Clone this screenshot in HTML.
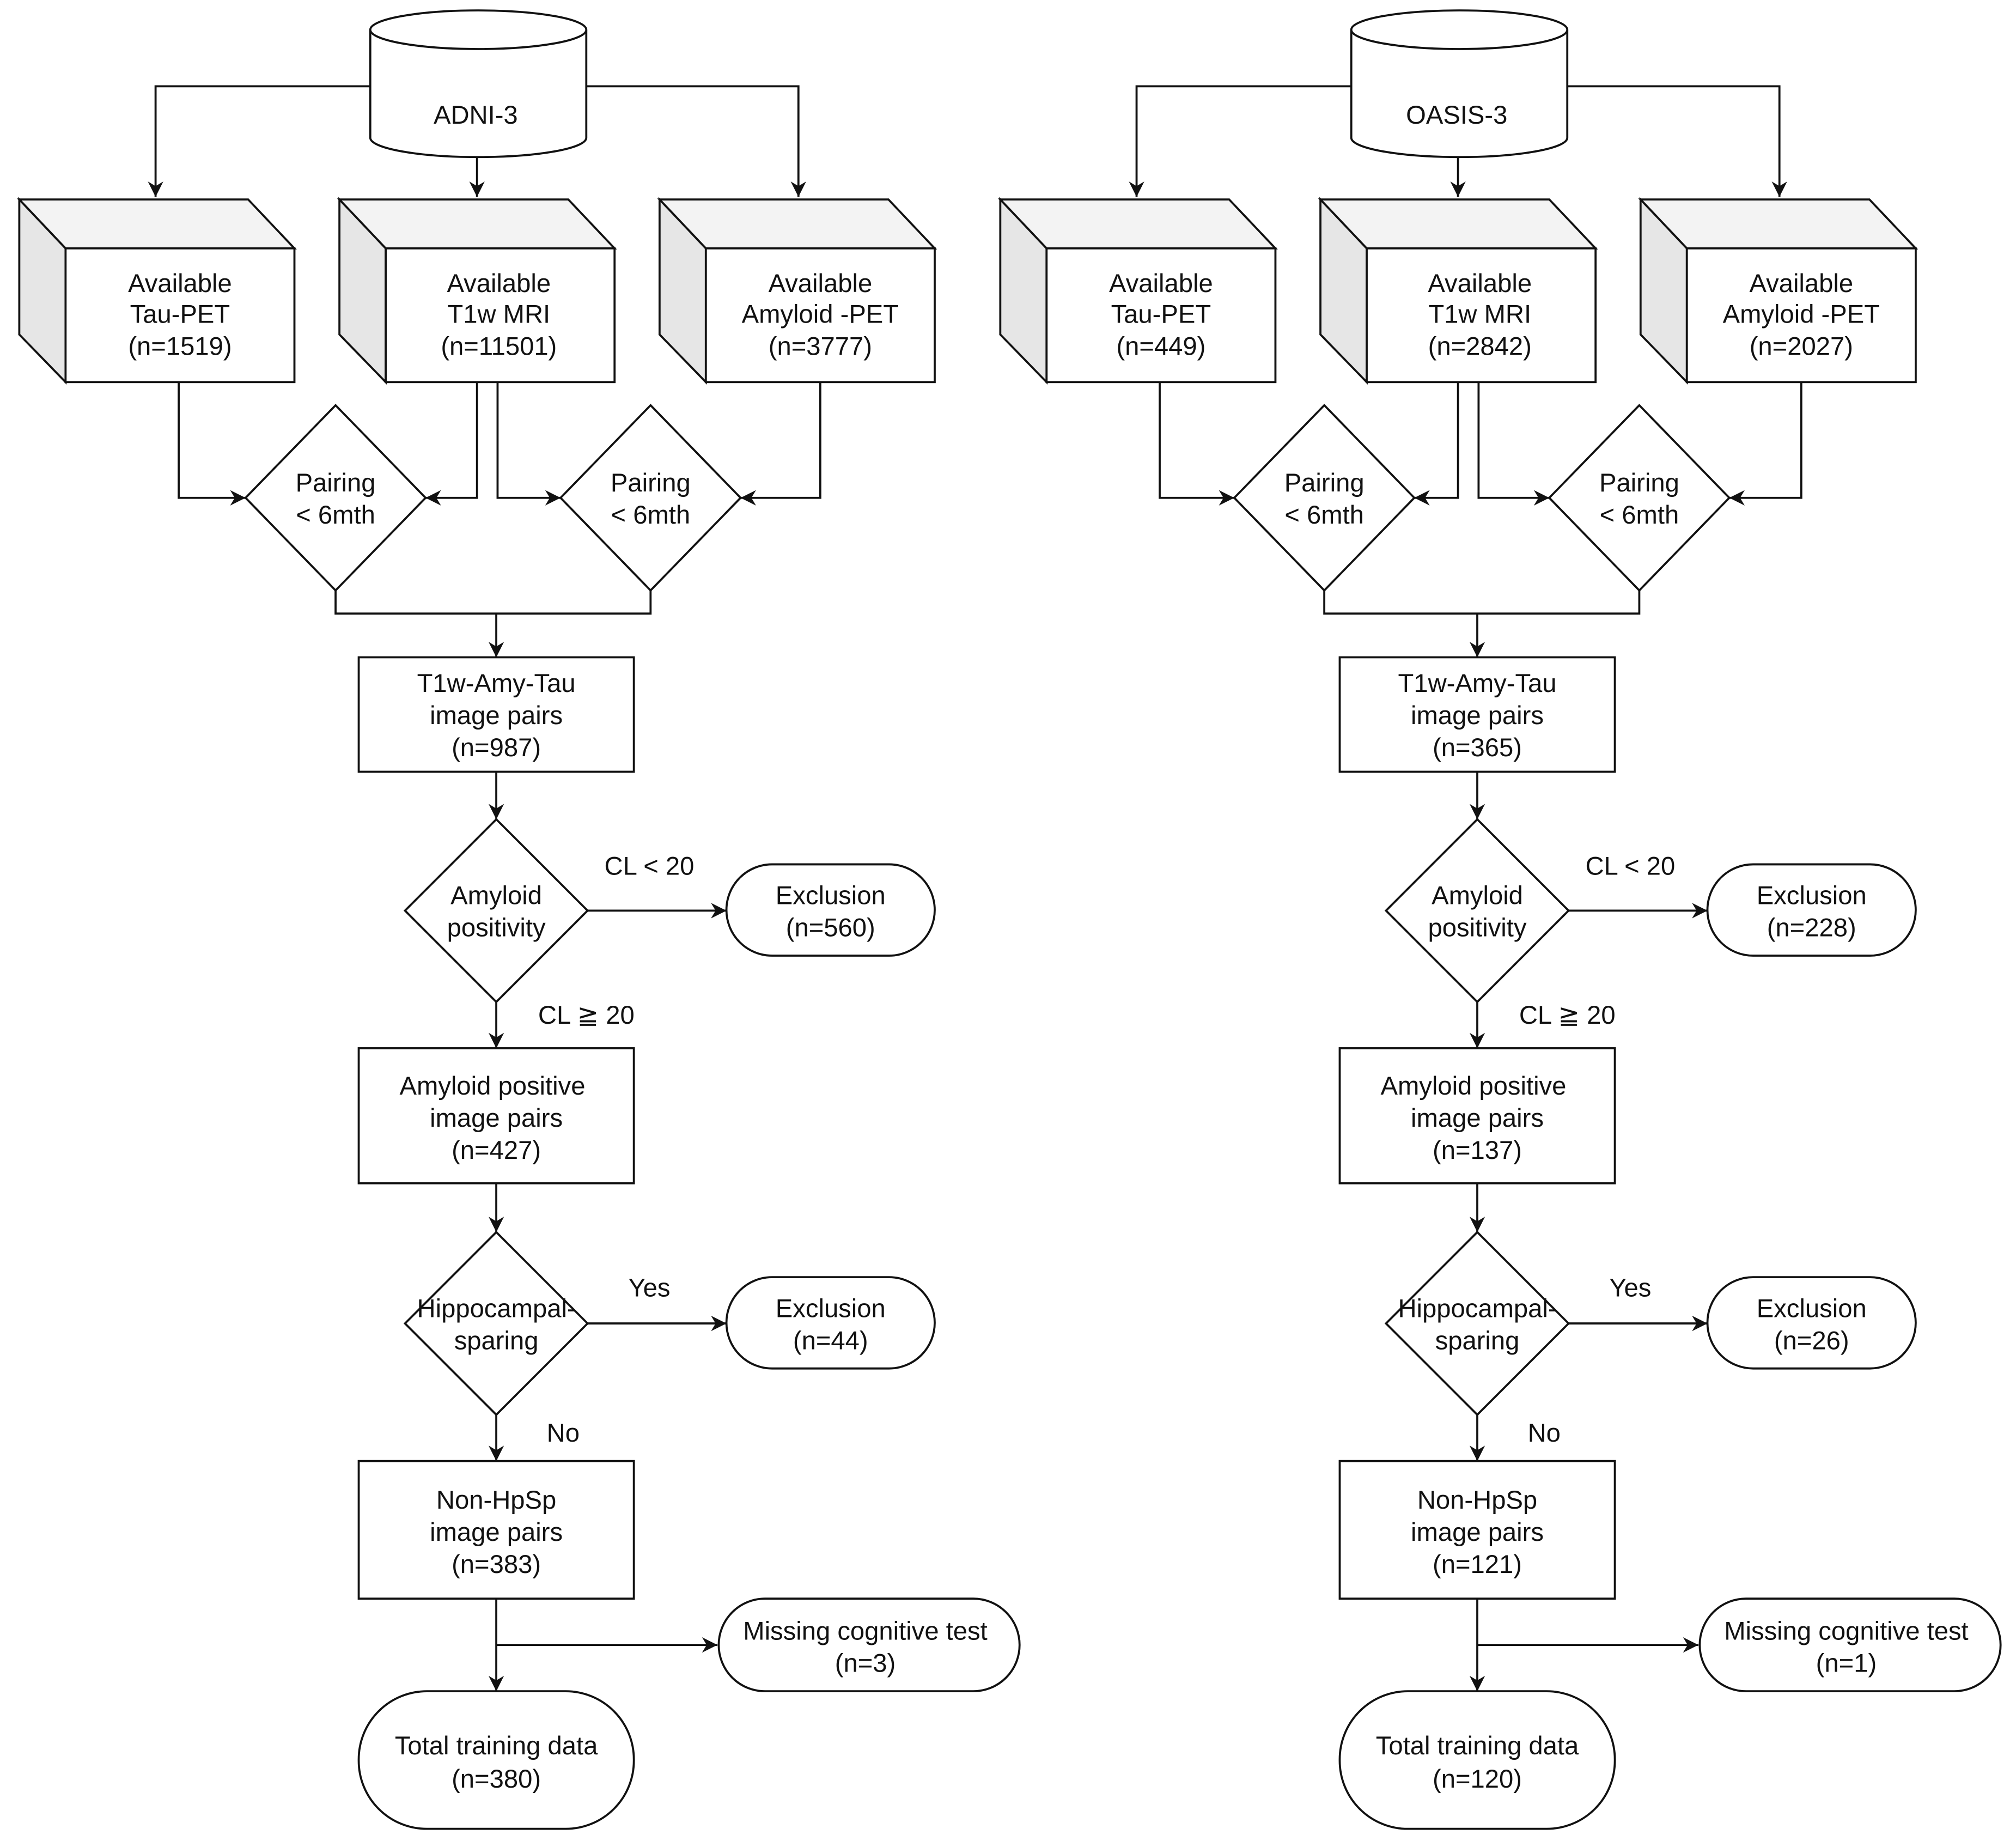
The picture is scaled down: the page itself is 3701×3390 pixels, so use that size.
<!DOCTYPE html>
<html><head><meta charset="utf-8"><style>
html,body{margin:0;padding:0;background:#fff;}
svg{display:block;}
text{font-family:"Liberation Sans",Arial,sans-serif;font-size:20px;fill:#111;text-anchor:middle;}
.s{fill:none;stroke:#111;stroke-width:1.6;}
.w{fill:#fff;stroke:#111;stroke-width:1.6;}
</style></head><body>
<svg width="3701" height="3390" viewBox="0 0 1568 1436" xmlns="http://www.w3.org/2000/svg">
<defs>
<marker id="a" viewBox="0 0 10 10" refX="10" refY="5" markerWidth="12" markerHeight="12" orient="auto" markerUnits="userSpaceOnUse"><path d="M0,0 L10,5 L0,10 L3,5 Z" fill="#111"/></marker>
<g id="top">
  <path class="w" d="M288,23 L288,107 A84,15 0 0 0 456,107 L456,23"/>
  <ellipse class="w" cx="372" cy="23" rx="84" ry="15"/>
  <path class="s" d="M288,67 L121,67 L121,153" marker-end="url(#a)"/>
  <path class="s" d="M371,122 L371,153" marker-end="url(#a)"/>
  <path class="s" d="M456,67 L621,67 L621,153" marker-end="url(#a)"/>
  <g>
    <path d="M15,155 L51,193 L51,297 L15,260 Z" fill="#e6e6e6" stroke="#111" stroke-width="1.6"/>
    <path d="M15,155 L193,155 L229,193 L51,193 Z" fill="#f3f3f3" stroke="#111" stroke-width="1.6"/>
    <rect class="w" x="51" y="193" width="178" height="104"/>
  </g>
  <g transform="translate(249,0)">
    <path d="M15,155 L51,193 L51,297 L15,260 Z" fill="#e6e6e6" stroke="#111" stroke-width="1.6"/>
    <path d="M15,155 L193,155 L229,193 L51,193 Z" fill="#f3f3f3" stroke="#111" stroke-width="1.6"/>
    <rect class="w" x="51" y="193" width="178" height="104"/>
  </g>
  <g transform="translate(498,0)">
    <path d="M15,155 L51,193 L51,297 L15,260 Z" fill="#e6e6e6" stroke="#111" stroke-width="1.6"/>
    <path d="M15,155 L193,155 L229,193 L51,193 Z" fill="#f3f3f3" stroke="#111" stroke-width="1.6"/>
    <rect class="w" x="51" y="193" width="178" height="104"/>
  </g>
  <text x="140" y="227">Available</text><text x="140" y="251">Tau-PET</text>
  <text x="388" y="227">Available</text><text x="388" y="251">T1w MRI</text>
  <text x="638" y="227">Available</text><text x="638" y="251">Amyloid -PET</text>
</g>
<g id="pair">
  <path class="w" d="M261,315 L331,387 L261,459 L191,387 Z"/>
  <path class="w" d="M506,315 L576,387 L506,459 L436,387 Z"/>
  <path class="s" d="M261,459 L261,477 L506,477 L506,459"/>
  <text x="261" y="382">Pairing</text><text x="261" y="407">&lt; 6mth</text>
  <text x="506" y="382">Pairing</text><text x="506" y="407">&lt; 6mth</text>
</g>
<g id="skel">
  <path class="s" d="M386,477 L386,511" marker-end="url(#a)"/>
  <rect class="w" x="279" y="511" width="214" height="89"/>
  <path class="s" d="M386,600 L386,637" marker-end="url(#a)"/>
  <path class="w" d="M386,637 L457,708 L386,779 L315,708 Z"/>
  <path class="s" d="M457,708 L565,708" marker-end="url(#a)"/>
  <rect class="w" x="565" y="672" width="162" height="71" rx="35.5"/>
  <path class="s" d="M386,779 L386,815" marker-end="url(#a)"/>
  <rect class="w" x="279" y="815" width="214" height="105"/>
  <path class="s" d="M386,920 L386,958" marker-end="url(#a)"/>
  <path class="w" d="M386,958 L457,1029 L386,1100 L315,1029 Z"/>
  <path class="s" d="M457,1029 L565,1029" marker-end="url(#a)"/>
  <rect class="w" x="565" y="993" width="162" height="71" rx="35.5"/>
  <path class="s" d="M386,1100 L386,1136" marker-end="url(#a)"/>
  <rect class="w" x="279" y="1136" width="214" height="107"/>
  <path class="s" d="M386,1243 L386,1315" marker-end="url(#a)"/>
  <path class="s" d="M386,1279 L558,1279" marker-end="url(#a)"/>
  <rect class="w" x="559" y="1243" width="234" height="72" rx="36"/>
  <rect class="w" x="279" y="1315" width="214" height="107" rx="53"/>
  <text x="386" y="538">T1w-Amy-Tau</text><text x="386" y="563">image pairs</text>
  <text x="386" y="703">Amyloid</text><text x="386" y="728">positivity</text>
  <text x="505" y="680">CL &lt; 20</text>
  <text x="646" y="703">Exclusion</text>
  <text x="456" y="796">CL ≧ 20</text>
  <text x="383" y="851">Amyloid positive</text><text x="386" y="876">image pairs</text>
  <text x="386" y="1024">Hippocampal-</text><text x="386" y="1049">sparing</text>
  <text x="505" y="1008">Yes</text>
  <text x="646" y="1024">Exclusion</text>
  <text x="438" y="1121">No</text>
  <text x="386" y="1173">Non-HpSp</text><text x="386" y="1198">image pairs</text>
  <text x="673" y="1275">Missing cognitive test</text>
  <text x="386" y="1364">Total training data</text>
</g>
</defs>
<rect width="1568" height="1436" fill="#fff"/>
<use href="#top"/>
<use href="#pair"/>
<path class="s" d="M139,297 L139,387 L191,387" marker-end="url(#a)"/>
<path class="s" d="M371,297 L371,387 L331,387" marker-end="url(#a)"/>
<path class="s" d="M387,297 L387,387 L436,387" marker-end="url(#a)"/>
<path class="s" d="M638,297 L638,387 L576,387" marker-end="url(#a)"/>
<use href="#skel"/>
<text x="370" y="96">ADNI-3</text>
<text x="140" y="276">(n=1519)</text>
<text x="388" y="276">(n=11501)</text>
<text x="638" y="276">(n=3777)</text>
<text x="386" y="588">(n=987)</text>
<text x="646" y="728">(n=560)</text>
<text x="386" y="901">(n=427)</text>
<text x="646" y="1049">(n=44)</text>
<text x="386" y="1223">(n=383)</text>
<text x="673" y="1300">(n=3)</text>
<text x="386" y="1390">(n=380)</text>
<g transform="translate(763,0)">
<use href="#top"/>
<g transform="translate(6,0)"><use href="#pair"/></g>
<path class="s" d="M139,297 L139,387 L197,387" marker-end="url(#a)"/>
<path class="s" d="M371,297 L371,387 L337,387" marker-end="url(#a)"/>
<path class="s" d="M387,297 L387,387 L442,387" marker-end="url(#a)"/>
<path class="s" d="M638,297 L638,387 L582,387" marker-end="url(#a)"/>
<path class="s" d="M386,477 L386,477"/>
<use href="#skel"/>
<text x="370" y="96">OASIS-3</text>
<text x="140" y="276">(n=449)</text>
<text x="388" y="276">(n=2842)</text>
<text x="638" y="276">(n=2027)</text>
<text x="386" y="588">(n=365)</text>
<text x="646" y="728">(n=228)</text>
<text x="386" y="901">(n=137)</text>
<text x="646" y="1049">(n=26)</text>
<text x="386" y="1223">(n=121)</text>
<text x="673" y="1300">(n=1)</text>
<text x="386" y="1390">(n=120)</text>
</g>
</svg>
</body></html>
